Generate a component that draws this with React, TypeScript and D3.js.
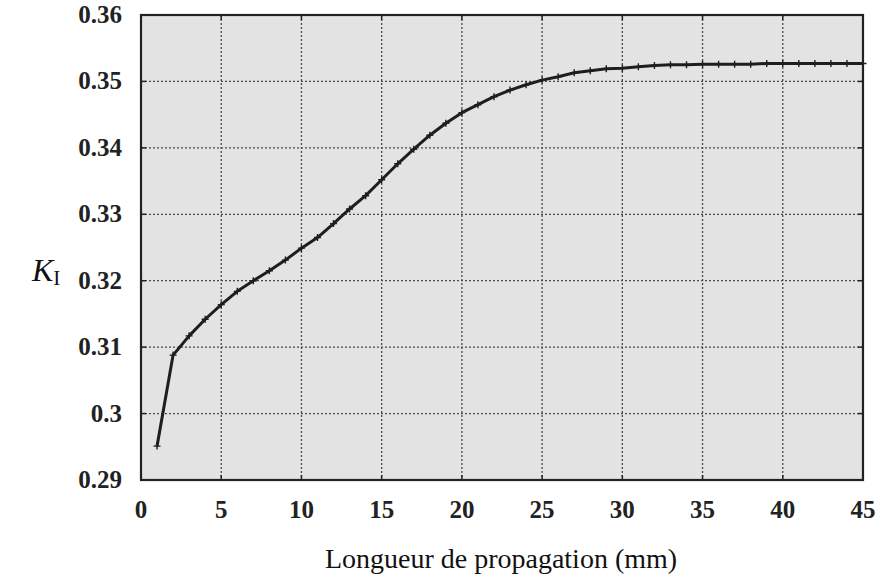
import { useEffect, useRef } from "react";
import * as d3 from "d3";

// propagation length (mm) and K_I values
const lengths = [
  1, 2, 3, 4, 5, 6, 7, 8, 9, 10, 11, 12, 13, 14, 15, 16, 17, 18, 19, 20, 21, 22,
  23, 24, 25, 26, 27, 28, 29, 30, 31, 32, 33, 34, 35, 36, 37, 38, 39, 40, 41,
  42, 43, 44, 45,
];
const kValues = [
  0.2951, 0.3088, 0.3117, 0.3142, 0.3164, 0.3184, 0.32, 0.3215, 0.3231, 0.3249,
  0.3265, 0.3286, 0.3308, 0.3328, 0.3352, 0.3376, 0.3398, 0.3419, 0.3437,
  0.3453, 0.3465, 0.3477, 0.3487, 0.3495, 0.3502, 0.3507, 0.3513, 0.3516,
  0.3519, 0.352, 0.3522, 0.3524, 0.3525, 0.3525, 0.3526, 0.3526, 0.3526,
  0.3526, 0.3527, 0.3527, 0.3527, 0.3527, 0.3527, 0.3527, 0.3527,
];
const xTicks = [0, 5, 10, 15, 20, 25, 30, 35, 40, 45];
const yTicks = [0.29, 0.3, 0.31, 0.32, 0.33, 0.34, 0.35, 0.36];

export default function App() {
  const svgRef = useRef<SVGSVGElement>(null);

  useEffect(() => {
    if (!svgRef.current) return;
    const root = d3.select(svgRef.current);
    root.selectAll("*").remove();

    const margin = { top: 15, right: 21, bottom: 98, left: 141 };
    const width = 884 - margin.left - margin.right;
    const height = 578 - margin.top - margin.bottom;

    const x = d3.scaleLinear().domain([0, 45]).range([0, width]);
    const y = d3.scaleLinear().domain([0.29, 0.36]).range([height, 0]);

    const g = root
      .append("g")
      .attr("transform", `translate(${margin.left},${margin.top})`);

    // gray plot background
    g.append("rect")
      .attr("width", width)
      .attr("height", height)
      .attr("fill", "#e3e3e3");

    // dotted grid
    g.selectAll("line.vgrid")
      .data(xTicks.slice(1, -1))
      .enter()
      .append("line")
      .attr("x1", (d) => x(d))
      .attr("x2", (d) => x(d))
      .attr("y1", 0)
      .attr("y2", height)
      .attr("stroke", "#4a4a4a")
      .attr("stroke-width", 1.3)
      .attr("stroke-dasharray", "2,2");

    g.selectAll("line.hgrid")
      .data(yTicks.slice(1, -1))
      .enter()
      .append("line")
      .attr("x1", 0)
      .attr("x2", width)
      .attr("y1", (d) => y(d))
      .attr("y2", (d) => y(d))
      .attr("stroke", "#4a4a4a")
      .attr("stroke-width", 1.3)
      .attr("stroke-dasharray", "2,2");

    // inner ticks on all four sides
    const tickLen = 5;
    const inner = g.append("g").attr("stroke", "#222").attr("stroke-width", 1.5);
    xTicks.slice(1, -1).forEach((t) => {
      inner.append("line").attr("x1", x(t)).attr("x2", x(t)).attr("y1", height).attr("y2", height - tickLen);
      inner.append("line").attr("x1", x(t)).attr("x2", x(t)).attr("y1", 0).attr("y2", tickLen);
    });
    yTicks.slice(1, -1).forEach((t) => {
      inner.append("line").attr("x1", 0).attr("x2", tickLen).attr("y1", y(t)).attr("y2", y(t));
      inner.append("line").attr("x1", width).attr("x2", width - tickLen).attr("y1", y(t)).attr("y2", y(t));
    });

    // frame
    g.append("rect")
      .attr("width", width)
      .attr("height", height)
      .attr("fill", "none")
      .attr("stroke", "#222")
      .attr("stroke-width", 2.2);

    // curve
    const points = lengths.map((l, i) => [l, kValues[i]] as [number, number]);
    const line = d3
      .line<[number, number]>()
      .x((d) => x(d[0]))
      .y((d) => y(d[1]));

    g.append("path")
      .datum(points)
      .attr("d", line)
      .attr("fill", "none")
      .attr("stroke", "#1e1e1e")
      .attr("stroke-width", 3)
      .attr("stroke-linejoin", "round");

    // "+" markers
    const m = 3.5;
    g.selectAll("path.marker")
      .data(points)
      .enter()
      .append("path")
      .attr(
        "d",
        (d) =>
          `M${x(d[0]) - m},${y(d[1])}H${x(d[0]) + m}M${x(d[0])},${y(d[1]) - m}V${y(d[1]) + m}`
      )
      .attr("stroke", "#1e1e1e")
      .attr("stroke-width", 1.4);

    // tick labels
    g.selectAll("text.xlab")
      .data(xTicks)
      .enter()
      .append("text")
      .attr("x", (d) => x(d))
      .attr("y", height + 38)
      .attr("text-anchor", "middle")
      .attr("font-family", "'Liberation Serif', 'DejaVu Serif', serif")
      .attr("font-weight", "bold")
      .attr("font-size", 25)
      .attr("fill", "#222")
      .text((d) => String(d));

    g.selectAll("text.ylab")
      .data(yTicks)
      .enter()
      .append("text")
      .attr("x", -19)
      .attr("y", (d) => y(d) + 8)
      .attr("text-anchor", "end")
      .attr("font-family", "'Liberation Serif', 'DejaVu Serif', serif")
      .attr("font-weight", "bold")
      .attr("font-size", 25)
      .attr("fill", "#222")
      .text((d) => String(d));

    // axis titles
    root
      .append("text")
      .attr("x", margin.left + width / 2 - 1)
      .attr("y", 568)
      .attr("text-anchor", "middle")
      .attr("font-family", "'Liberation Serif', serif")
      .attr("font-size", 28)
      .attr("fill", "#111")
      .text("Longueur de propagation (mm)");

    const kLabel = root
      .append("text")
      .attr("x", 32)
      .attr("y", 281)
      .attr("font-family", "'Liberation Serif', serif")
      .attr("font-size", 32)
      .attr("fill", "#111");
    kLabel.append("tspan").attr("font-style", "italic").text("K");
    kLabel.append("tspan").attr("font-size", 21).attr("dy", 4).text("I");
  }, []);

  return (
    <svg
      ref={svgRef}
      width={884}
      height={578}
      style={{ position: "absolute", left: 0, top: 0, background: "#fff" }}
    />
  );
}
